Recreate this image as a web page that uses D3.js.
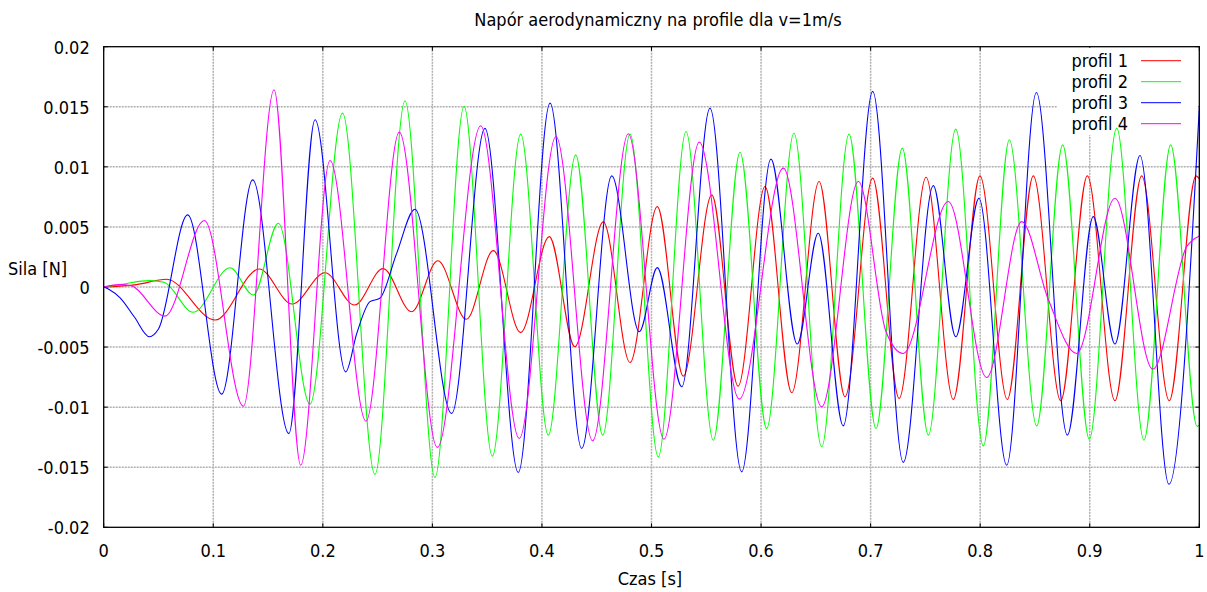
<!DOCTYPE html>
<html><head><meta charset="utf-8">
<script src="https://cdn.jsdelivr.net/npm/d3@7"></script>
<style>body{margin:0;background:#fff}svg{display:block}text{font-family:"DejaVu Sans Condensed","DejaVu Sans",Verdana,sans-serif;font-stretch:condensed;fill:#000}</style>
</head><body>
<svg id="c" width="1207" height="592"></svg>
<script>
const title = "Napór aerodynamiczny na profile dla v=1m/s";
const xLabel = "Czas [s]";
const yLabel = "Sila [N]";
const xTicks = [0,0.1,0.2,0.3,0.4,0.5,0.6,0.7,0.8,0.9,1];
const xTickLabels = ["0","0.1","0.2","0.3","0.4","0.5","0.6","0.7","0.8","0.9","1"];
const yTicks = [0.02,0.015,0.01,0.005,0,-0.005,-0.01,-0.015,-0.02];
const yTickLabels = ["0.02","0.015","0.01","0.005","0","-0.005","-0.01","-0.015","-0.02"];
const seriesNames = ["profil 1","profil 2","profil 3","profil 4"];
const seriesColors = ["#ff0000","#00ff00","#0000ff","#ff00ff"];

const profil1 = [[0,0],[0.03,0.0002],[0.0575,0.00064],[0.1016,-0.00275],[0.142,0.0015],[0.172,-0.00142],[0.202,0.00119],[0.229,-0.0015],[0.255,0.00153],[0.281,-0.00206],[0.305,0.00219],[0.331,-0.00269],[0.3556,0.00303],[0.3806,-0.0038],[0.4067,0.00419],[0.430,-0.00497],[0.456,0.00542],[0.4804,-0.00628],[0.5053,0.00669],[0.529,-0.00742],[0.555,0.00767],[0.579,-0.00825],[0.6036,0.00836],[0.628,-0.0088],[0.653,0.00878],[0.6766,-0.00914],[0.7019,0.00906],[0.726,-0.00928],[0.7506,0.00914],[0.7755,-0.00936],[0.7998,0.00925],[0.8248,-0.00936],[0.8485,0.00925],[0.8735,-0.00947],[0.8978,0.00925],[0.923,-0.00947],[0.9474,0.00925],[0.9726,-0.00947],[0.997,0.00925],[1,0.0090]];
const profil2 = [[0,0],[0.015,0.0002],[0.042,0.00053],[0.055,0.0004],[0.0818,-0.0021],[0.1153,0.0016],[0.1366,-0.00067],[0.1594,0.0053],[0.1883,-0.00975],[0.218,0.01447],[0.2476,-0.0156],[0.275,0.0155],[0.3024,-0.01586],[0.3289,0.01503],[0.3547,-0.01408],[0.3806,0.01272],[0.4058,-0.01233],[0.4308,0.011],[0.4555,-0.01233],[0.4804,0.01272],[0.5062,-0.01414],[0.5315,0.01294],[0.5564,-0.01275],[0.5808,0.01122],[0.6051,-0.01178],[0.63,0.0128],[0.6553,-0.0133],[0.6803,0.01272],[0.7049,-0.01178],[0.7289,0.01156],[0.7527,-0.01233],[0.7777,0.01314],[0.8029,-0.01322],[0.8266,0.01225],[0.8516,-0.01156],[0.8753,0.01183],[0.8996,-0.01267],[0.9246,0.01322],[0.9495,-0.01275],[0.9739,0.01183],[0.998,-0.0116],[1,-0.0115]];
const profil3 = [[0,0],[0.005,-0.0002],[0.015,-0.0009],[0.028,-0.0025],[0.0417,-0.00414],[0.05,-0.0035],[0.0767,0.006],[0.1077,-0.00892],[0.136,0.00892],[0.169,-0.0122],[0.1929,0.01392],[0.2209,-0.00706],[0.231,-0.00386],[0.243,-0.00122],[0.252,-0.00094],[0.2674,0.0028],[0.2841,0.00647],[0.3176,-0.01053],[0.348,0.0132],[0.3784,-0.01544],[0.4074,0.0153],[0.4363,-0.01344],[0.4637,0.00925],[0.4889,-0.00372],[0.5053,0.00161],[0.5276,-0.0083],[0.5534,0.01489],[0.5823,-0.01539],[0.609,0.01064],[0.633,-0.00475],[0.6522,0.00447],[0.675,-0.01156],[0.7019,0.01628],[0.7298,-0.0146],[0.7572,0.00844],[0.7777,-0.00414],[0.7989,0.00739],[0.8242,-0.01483],[0.8513,0.01619],[0.8796,-0.01233],[0.9032,0.00586],[0.923,-0.00475],[0.9459,0.01094],[0.9723,-0.01642],[1,0.01489]];
const profil4 = [[0,0],[0.015,0.0002],[0.025,0.0001],[0.056,-0.00242],[0.0919,0.00553],[0.1275,-0.00992],[0.1555,0.01642],[0.1798,-0.01483],[0.2066,0.01053],[0.2394,-0.01117],[0.2698,0.01289],[0.3045,-0.01336],[0.3441,0.01342],[0.3793,-0.01261],[0.4128,0.01253],[0.4463,-0.0128],[0.4788,0.01275],[0.5114,-0.01267],[0.5436,0.01206],[0.5801,-0.00933],[0.6203,0.00989],[0.6553,-0.00997],[0.6888,0.00878],[0.714,-0.0037],[0.7298,-0.00553],[0.7709,0.00711],[0.8059,-0.00753],[0.8379,0.00544],[0.862,-0.001],[0.8881,-0.00553],[0.923,0.00739],[0.9575,-0.00683],[0.9885,0.00336],[1,0.00425]];
const seriesData = [profil1, profil2, profil3, profil4];

const svg = d3.select("#c");
const L = 103.7, R = 1199.3, T = 46.7, B = 527.3;
const x = d3.scaleLinear().domain([0,1]).range([L,R]);
const y = d3.scaleLinear().domain([-0.02,0.02]).range([B,T]);
const FS = 18;

// grid
const g = svg.append("g");
g.selectAll(".gx").data(xTicks.slice(1,-1)).enter().append("line")
  .attr("x1",d=>x(d)).attr("x2",d=>x(d)).attr("y1",T).attr("y2",B)
  .attr("stroke","#b0b0b0").attr("stroke-width",1.5).attr("stroke-dasharray","2,1");
g.selectAll(".gy").data(yTicks.slice(1,-1)).enter().append("line")
  .attr("y1",d=>y(d)).attr("y2",d=>y(d)).attr("x1",L).attr("x2",R)
  .attr("stroke","#b0b0b0").attr("stroke-width",1.5).attr("stroke-dasharray","2,1");

// ticks (inward, mirrored)
const tk = 4;
xTicks.forEach(t=>{
  svg.append("line").attr("x1",x(t)).attr("x2",x(t)).attr("y1",B).attr("y2",B-tk).attr("stroke","#000");
  svg.append("line").attr("x1",x(t)).attr("x2",x(t)).attr("y1",T).attr("y2",T+tk).attr("stroke","#000");
});
yTicks.forEach(t=>{
  svg.append("line").attr("y1",y(t)).attr("y2",y(t)).attr("x1",L).attr("x2",L+tk).attr("stroke","#000");
  svg.append("line").attr("y1",y(t)).attr("y2",y(t)).attr("x1",R).attr("x2",R-tk).attr("stroke","#000");
});

// legend background
svg.append("rect").attr("x",1057).attr("y",T+1).attr("width",R-1057-1).attr("height",134-T).attr("fill","#fff");

// tick labels
svg.selectAll(".xl").data(xTicks).enter().append("text")
  .attr("x",d=>x(d)).attr("y",B+30).attr("text-anchor","middle").attr("font-size",FS)
  .text((d,i)=>xTickLabels[i]);
svg.selectAll(".yl").data(yTicks).enter().append("text")
  .attr("x",L-14).attr("y",d=>y(d)+7).attr("text-anchor","end").attr("font-size",FS)
  .text((d,i)=>yTickLabels[i]);

svg.append("text").attr("x",658).attr("y",26).attr("text-anchor","middle").attr("font-size",FS).text(title);
svg.append("text").attr("x",650).attr("y",585).attr("text-anchor","middle").attr("font-size",FS).text(xLabel);
svg.append("text").attr("x",8).attr("y",275).attr("font-size",FS).text(yLabel);

// legend
seriesNames.forEach((n,i)=>{
  const yy = 60.7 + i*21;
  svg.append("text").attr("x",1128).attr("y",yy+6).attr("text-anchor","end").attr("font-size",FS).text(n);
  svg.append("line").attr("x1",1141).attr("x2",1181).attr("y1",yy).attr("y2",yy).attr("stroke",seriesColors[i]).attr("stroke-width",1);
});

// curves
const line = d3.line().x(d=>x(d[0])).y(d=>y(d[1])).curve(d3.curveMonotoneX);
seriesData.forEach((s,i)=>{
  svg.append("path").attr("d",line(s)).attr("fill","none").attr("stroke",seriesColors[i]).attr("stroke-width",1.1);
});

// frame
svg.append("rect").attr("x",L).attr("y",T).attr("width",R-L).attr("height",B-T).attr("fill","none").attr("stroke","#000").attr("stroke-width",1.3);
</script>
</body></html>
